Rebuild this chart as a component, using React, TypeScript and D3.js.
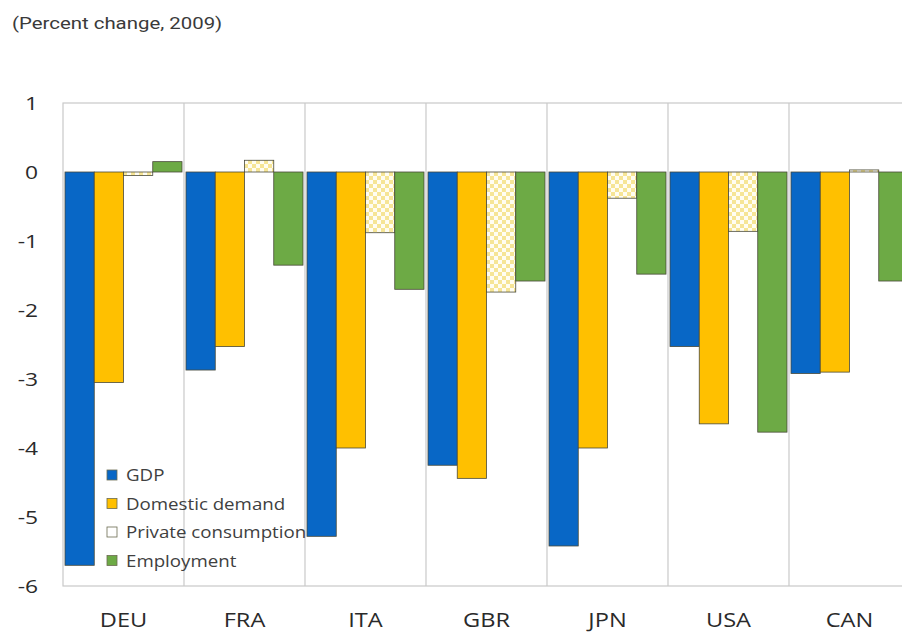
import React from "react";
import * as d3 from "d3";

const categories = ["DEU", "FRA", "ITA", "GBR", "JPN", "USA", "CAN"];
const seriesNames = ["GDP", "Domestic demand", "Private consumption", "Employment"];
const gdp = [-5.7, -2.87, -5.28, -4.25, -5.42, -2.53, -2.92];
const domesticDemand = [-3.05, -2.53, -4.0, -4.44, -4.0, -3.65, -2.9];
const privateConsumption = [-0.05, 0.17, -0.88, -1.74, -0.38, -0.86, 0.03];
const employment = [0.15, -1.35, -1.7, -1.58, -1.48, -3.77, -1.58];
const yTicks = [1, 0, -1, -2, -3, -4, -5, -6];

const seriesValues = [gdp, domesticDemand, privateConsumption, employment];
const fills = ["#0867C6", "#FFC000", "url(#pcPattern)", "#6DAA45"];
const legendFills = ["#0867C6", "#FFC000", "#FFFFFF", "#6DAA45"];

export default function App() {
  const W = 902, H = 634;
  const left = 63, right = 910, top = 103, bottom = 586;
  const x = d3.scaleBand<string>().domain(categories).range([left, right]).paddingInner(0).paddingOuter(0);
  const bw = x.bandwidth();
  const xs = d3.scaleBand<string>().domain(seriesNames).range([2, bw - 2]).padding(0);
  const y = d3.scaleLinear().domain([-6, 1]).range([bottom, top]);
  const font = "'Open Sans', 'Noto Sans', sans-serif";

  return (
    <svg width={W} height={H} style={{ position: "absolute", left: 0, top: 0, background: "#fff" }}>
      <defs>
        <pattern id="pcPattern" width="8" height="8" patternUnits="userSpaceOnUse">
          <rect width="8" height="8" fill="#FFFDF2" />
          <rect x="0" y="0" width="4" height="4" fill="#F6E596" />
          <rect x="4" y="4" width="4" height="4" fill="#F6E596" />
        </pattern>
      </defs>
      <text transform="translate(12,29) scale(1.2,1)" fontFamily="Roboto, sans-serif" fontSize={17} fill="#3a3a3a">(Percent change, 2009)</text>

      {/* plot frame */}
      <rect x={left} y={top} width={right - left} height={bottom - top} fill="none" stroke="#C9C9C9" strokeWidth={1.2} />
      {categories.slice(1).map((c) => (
        <line key={c} x1={x(c)} x2={x(c)} y1={top} y2={bottom} stroke="#C9C9C9" strokeWidth={1.2} />
      ))}

      {/* bars */}
      {categories.map((c, i) => (
        <g key={c} transform={`translate(${x(c)},0)`}>
          {seriesNames.map((s, k) => {
            const v = seriesValues[k][i];
            const y0 = y(Math.max(0, v));
            const y1 = y(Math.min(0, v));
            return (
              <rect key={s} x={xs(s)} y={y0} width={xs.bandwidth()} height={Math.max(1, y1 - y0)}
                fill={fills[k]} stroke="#4A4A3A" strokeWidth={0.8} />
            );
          })}
        </g>
      ))}

      {/* y ticks */}
      {yTicks.map((t) => (
        <text key={t} transform={`translate(38,${y(t)}) scale(1.2,1)`} dy="0.36em" textAnchor="end" fontFamily={font} fontSize={19} fill="#2a2a2a">{t}</text>
      ))}
      {/* x labels */}
      {categories.map((c) => (
        <text key={c} transform={`translate(${(x(c) as number) + bw / 2},627) scale(1.18,1)`} textAnchor="middle" fontFamily={font} fontSize={20} fill="#2a2a2a">{c}</text>
      ))}

      {/* legend */}
      {seriesNames.map((s, k) => (
        <g key={s} transform={`translate(107,${475 + k * 28.5})`}>
          <rect x={0} y={-5} width={10} height={10} fill={legendFills[k]} stroke="#6b6b50" strokeWidth={0.8} />
          <text transform="translate(19,0) scale(1.1,1)" dy="0.36em" fontFamily={font} fontSize={17} fill="#404040">{s}</text>
        </g>
      ))}
    </svg>
  );
}
